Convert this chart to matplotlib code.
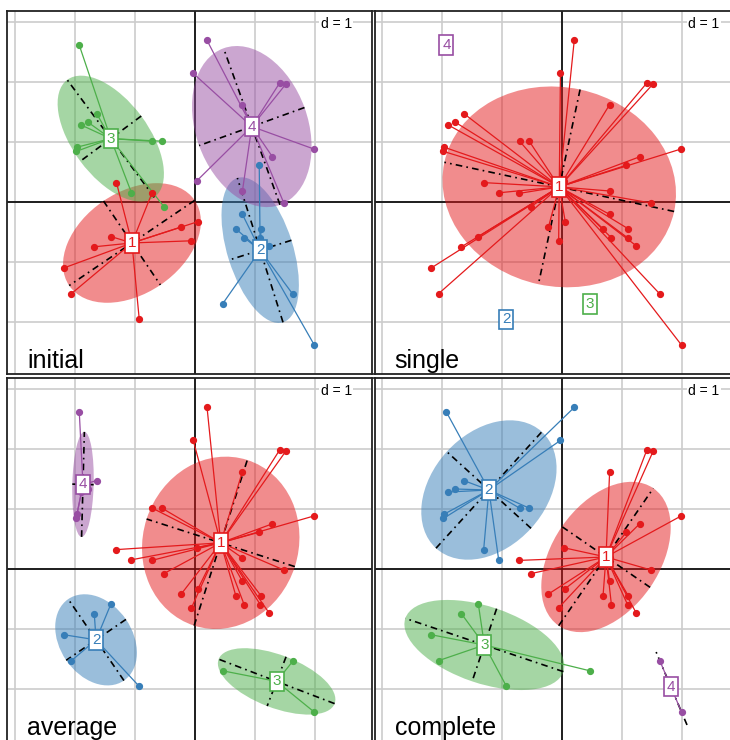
import numpy as np
import matplotlib
matplotlib.use("Agg")
import matplotlib.pyplot as plt
from matplotlib.patches import Ellipse

plt.rcParams['font.family'] = ['Liberation Sans', 'DejaVu Sans']

# point coordinates (same individuals in every panel)
x = [-1.93, 0.20, -0.03, -1.64, -1.79, -1.90, -1.97, -1.98, -0.71, -0.55, -1.31, -1.06,
     1.41, 1.52, 0.79, 1.98, 1.29, 1.07, 0.03, -0.72, -0.52, 1.48, 0.05, -0.23, 0.79,
     0.68, -0.06, 0.82, 1.10, 1.09, 1.23, 0.79,
     -1.40, -1.68, -2.18, -2.06, -0.93, 0.46,
     1.63, 1.99]
y = [2.61, 2.69, 2.14, 1.47, 1.33, 1.28, 0.91, 0.84, 1.01, 1.01, 0.32, 0.15,
     1.98, 1.97, 1.62, 0.88, 0.75, 0.61, 0.35, 0.14, -0.08, -0.02, -0.33, -0.42, -0.21,
     -0.45, -0.65, -0.60, -0.45, -0.60, -0.73, 0.18,
     -0.58, -0.75, -1.10, -1.53, -1.96, -1.70,
     -1.54, -2.39]

# cluster memberships per panel
initial = [3, 4, 4, 3, 3, 3, 3, 3, 3, 3, 1, 3,
           4, 4, 4, 4, 4, 2, 4, 1, 3, 4, 1, 1, 2, 2, 1, 2, 2, 2, 2, 4,
           1, 1, 1, 1, 1, 2,
           2, 2]
single = [4, 1, 1, 1, 1, 1, 1, 1, 1, 1, 1, 1,
          1, 1, 1, 1, 1, 1, 1, 1, 1, 1, 1, 1, 1, 1, 1, 1, 1, 1, 1, 1,
          1, 1, 1, 1, 2, 3,
          1, 1]
average = [4, 1, 1, 4, 4, 4, 4, 4, 1, 1, 1, 1,
           1, 1, 1, 1, 1, 1, 1, 1, 1, 1, 1, 1, 1, 1, 1, 1, 1, 1, 1, 1,
           2, 2, 2, 2, 2, 3,
           3, 3]
complete = [2, 2, 2, 2, 2, 2, 2, 2, 2, 2, 2, 2,
            1, 1, 1, 1, 1, 1, 1, 1, 1, 1, 1, 1, 1, 1, 1, 1, 1, 1, 1, 1,
            3, 3, 3, 3, 3, 3,
            4, 4]
panel_titles = ["initial", "single", "average", "complete"]
panel_groups = [initial, single, average, complete]
group_colors = {1: "#E41A1C", 2: "#377EB8", 3: "#4DAF4A", 4: "#984EA3"}

X = np.array(x)
Y = np.array(y)

W, H = 730, 740
fig = plt.figure(figsize=(W / 100, H / 100), dpi=100)

# panel boxes in pixels: (left, top, right, bottom)
boxes = [(7.3, 11, 372, 374), (374.5, 11, 739.2, 374),
         (7.3, 378, 372, 741), (374.5, 378, 739.2, 741)]
xlim = (-3.13, 2.95)
ylim = (-2.87, 3.18)

for (l, t, r, b), title, grp in zip(boxes, panel_titles, panel_groups):
    ax = fig.add_axes([l / W, 1 - b / H, (r - l) / W, (b - t) / H])
    ax.set_xlim(*xlim)
    ax.set_ylim(*ylim)
    ax.set_xticks([])
    ax.set_yticks([])
    for s in ax.spines.values():
        s.set_color("#222222")
        s.set_linewidth(1.3)
    # grid
    for gx in range(-3, 3):
        ax.axvline(gx, color="#cccccc", lw=1.2, zorder=0)
    for gy in range(-2, 4):
        ax.axhline(gy, color="#cccccc", lw=1.2, zorder=0)
    ax.axvline(0, color="black", lw=1.2, zorder=1)
    ax.axhline(0, color="black", lw=1.2, zorder=1)

    g = np.array(grp)
    for k in sorted(group_colors):
        m = g == k
        if not m.any():
            continue
        col = group_colors[k]
        px, py = X[m], Y[m]
        cx, cy = px.mean(), py.mean()
        if m.sum() >= 2:
            d = np.vstack([px - cx, py - cy])
            cov = d @ d.T / m.sum()
            vals, vecs = np.linalg.eigh(cov)
            vals = np.clip(vals, 0, None)
            order = vals.argsort()[::-1]
            vals, vecs = vals[order], vecs[:, order]
            a, bb = 1.5 * np.sqrt(vals)
            ang = np.degrees(np.arctan2(vecs[1, 0], vecs[0, 0]))
            if bb > 1e-6:
                ax.add_patch(Ellipse((cx, cy), 2 * a, 2 * bb, angle=ang,
                                     facecolor=col, alpha=0.5, edgecolor="none", zorder=2))
            for i in range(2):
                L = 1.5 * np.sqrt(vals[i])
                if L < 1e-6:
                    continue
                vx, vy = vecs[:, i] * L
                ax.plot([cx - vx, cx + vx], [cy - vy, cy + vy], color="black",
                        lw=1.2, ls=(0, (4, 2.5, 1, 2.5)), zorder=3)
            for xi, yi in zip(px, py):
                ax.plot([cx, xi], [cy, yi], color=col, lw=0.9, zorder=4)
        ax.plot(px, py, "o", color=col, ms=4.2, mec=col, zorder=5)
        ax.text(cx, cy, str(k), color=col, fontsize=11, ha="center", va="center",
                zorder=6, bbox=dict(boxstyle="square,pad=0.18", fc="white", ec=col, lw=1.2))

    ax.text(0.945, 0.963, "d = 1", transform=ax.transAxes, ha="right", va="center",
            fontsize=10, zorder=7,
            bbox=dict(boxstyle="square,pad=0.1", fc="white", ec="none"))
    ax.text(0.055, 0.017, title, transform=ax.transAxes, ha="left", va="baseline",
            fontsize=18, zorder=7)

fig.savefig("out.png", dpi=100)
